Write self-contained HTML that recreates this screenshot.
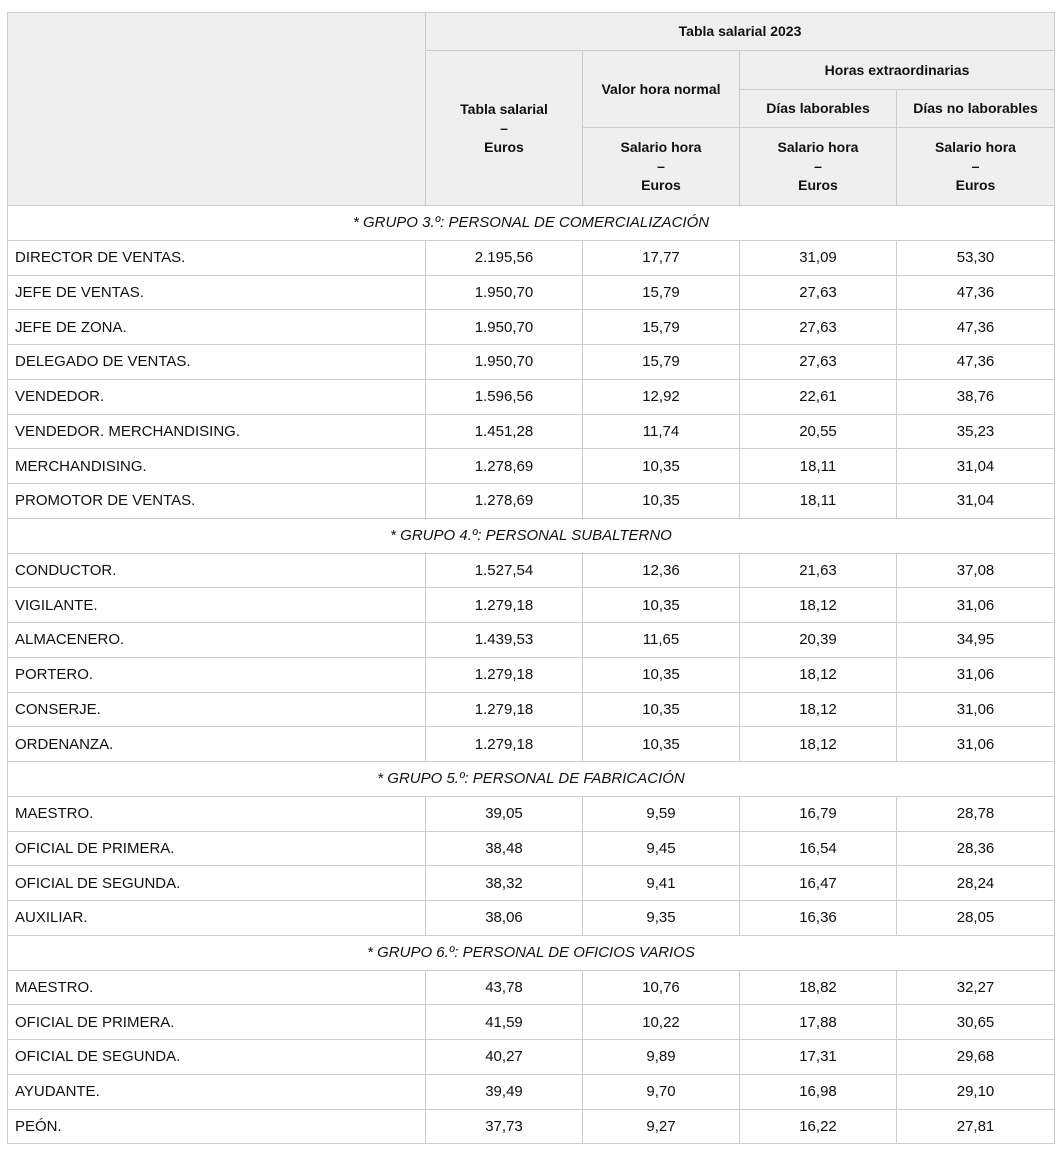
<!DOCTYPE html>
<html><head><meta charset="utf-8"><style>
body{margin:0;background:#fff;width:1060px;height:1149px;overflow:hidden;font-family:"Liberation Sans",sans-serif;color:#111}
table{position:absolute;left:7px;top:12px;border-collapse:collapse;table-layout:fixed;width:1047px}
td,th{border:1px solid #ccc;padding:0;text-align:center;font-size:15px}
th{background:#efefef;font-weight:bold;font-size:14px;line-height:19px}
td.l{text-align:left;padding-left:7px}
td.g{font-style:italic}
tbody tr{height:34.75px}
</style></head><body>
<table>
<colgroup><col style="width:418px"><col style="width:157px"><col style="width:157px"><col style="width:157px"><col style="width:158px"></colgroup>
<thead>
<tr style="height:38px"><th rowspan="4"></th><th colspan="4">Tabla salarial 2023</th></tr>
<tr style="height:39px"><th rowspan="3">Tabla salarial<br>–<br>Euros</th><th rowspan="2">Valor hora normal</th><th colspan="2">Horas extraordinarias</th></tr>
<tr style="height:38px"><th>Días laborables</th><th>Días no laborables</th></tr>
<tr style="height:78px"><th>Salario hora<br>–<br>Euros</th><th>Salario hora<br>–<br>Euros</th><th>Salario hora<br>–<br>Euros</th></tr>
</thead>
<tbody id="tb"></tbody>
</table>
<script>
const groups=["* GRUPO 3.º: PERSONAL DE COMERCIALIZACIÓN","* GRUPO 4.º: PERSONAL SUBALTERNO","* GRUPO 5.º: PERSONAL DE FABRICACIÓN","* GRUPO 6.º: PERSONAL DE OFICIOS VARIOS"];
const rows=[
[["DIRECTOR DE VENTAS.","2.195,56","17,77","31,09","53,30"],["JEFE DE VENTAS.","1.950,70","15,79","27,63","47,36"],["JEFE DE ZONA.","1.950,70","15,79","27,63","47,36"],["DELEGADO DE VENTAS.","1.950,70","15,79","27,63","47,36"],["VENDEDOR.","1.596,56","12,92","22,61","38,76"],["VENDEDOR. MERCHANDISING.","1.451,28","11,74","20,55","35,23"],["MERCHANDISING.","1.278,69","10,35","18,11","31,04"],["PROMOTOR DE VENTAS.","1.278,69","10,35","18,11","31,04"]],
[["CONDUCTOR.","1.527,54","12,36","21,63","37,08"],["VIGILANTE.","1.279,18","10,35","18,12","31,06"],["ALMACENERO.","1.439,53","11,65","20,39","34,95"],["PORTERO.","1.279,18","10,35","18,12","31,06"],["CONSERJE.","1.279,18","10,35","18,12","31,06"],["ORDENANZA.","1.279,18","10,35","18,12","31,06"]],
[["MAESTRO.","39,05","9,59","16,79","28,78"],["OFICIAL DE PRIMERA.","38,48","9,45","16,54","28,36"],["OFICIAL DE SEGUNDA.","38,32","9,41","16,47","28,24"],["AUXILIAR.","38,06","9,35","16,36","28,05"]],
[["MAESTRO.","43,78","10,76","18,82","32,27"],["OFICIAL DE PRIMERA.","41,59","10,22","17,88","30,65"],["OFICIAL DE SEGUNDA.","40,27","9,89","17,31","29,68"],["AYUDANTE.","39,49","9,70","16,98","29,10"],["PEÓN.","37,73","9,27","16,22","27,81"]]];
const tb=document.getElementById('tb');
groups.forEach((g,gi)=>{
  const tr=document.createElement('tr');
  
  
  const td=document.createElement('td');td.colSpan=5;td.className='g';td.textContent=g;
  
  
  tr.appendChild(td);tb.appendChild(tr);
  rows[gi].forEach(r=>{
    const tr=document.createElement('tr');
    
    
    r.forEach((v,i)=>{const td=document.createElement('td');td.textContent=v;if(i==0)td.className='l';
      
      
      tr.appendChild(td);});
    tb.appendChild(tr);
  });
});
</script>
</body></html>
